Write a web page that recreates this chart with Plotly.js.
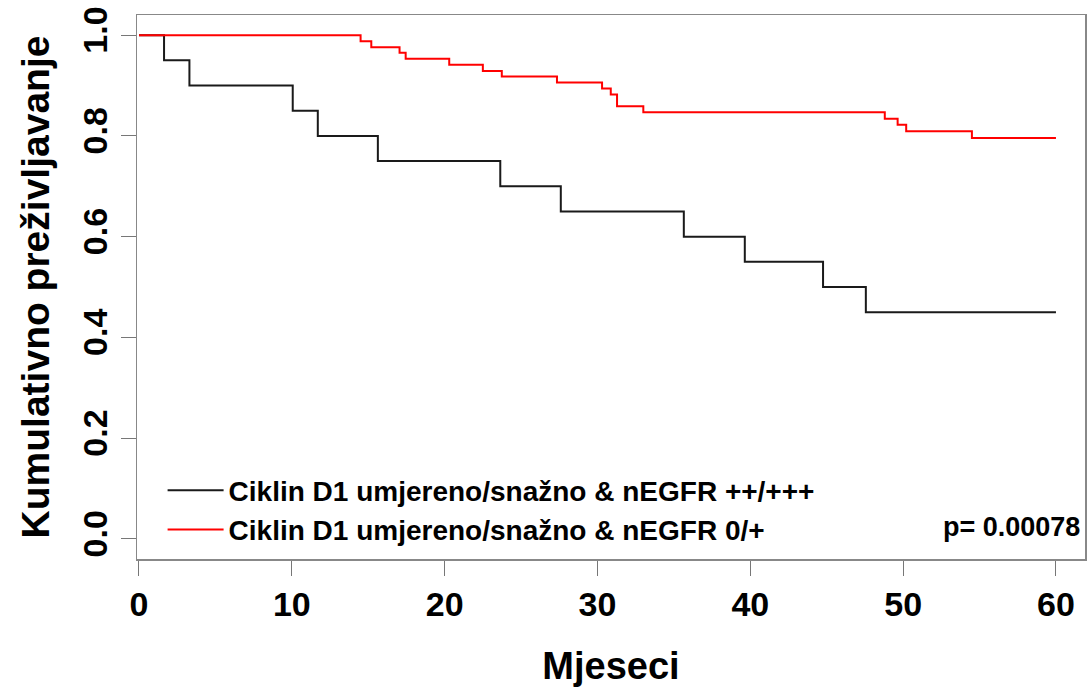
<!DOCTYPE html>
<html>
<head>
<meta charset="utf-8">
<script src="https://cdn.plot.ly/plotly-3.0.1.min.js"></script>
<style>
html,body{margin:0;padding:0;background:#fff;}
#chart{width:1088px;height:692px;}
</style>
</head>
<body>
<div id="chart"></div>
<script>
// Kaplan-Meier step data (months, cumulative survival)
var blackTime = [0, 1.64, 3.3, 10.06, 11.7, 15.63, 23.64, 27.6, 35.65, 39.64, 44.76, 47.56, 60];
var blackSurv = [1, 0.95, 0.90, 0.85, 0.80, 0.75, 0.70, 0.65, 0.60, 0.55, 0.50, 0.45, 0.45];
var redTime = [0, 14.5, 15.2, 17.05, 17.45, 20.3, 22.5, 23.74, 27.35, 30.3, 30.87, 31.28, 33.0, 48.8, 49.64, 50.2, 54.5, 60];
var redSurv = [1, 0.988, 0.976, 0.965, 0.953, 0.941, 0.929, 0.918, 0.906, 0.894, 0.882, 0.859, 0.847, 0.834, 0.822, 0.809, 0.796, 0.796];
var seriesNames = ["Ciklin D1 umjereno/snažno & nEGFR ++/+++", "Ciklin D1 umjereno/snažno & nEGFR 0/+"];
var xTicks = [0, 10, 20, 30, 40, 50, 60];
var yTicks = [0, 0.2, 0.4, 0.6, 0.8, 1.0];
var yTickText = ["0.0", "0.2", "0.4", "0.6", "0.8", "1.0"];
var pText = "p= 0.00078";

var FONT = "'Liberation Sans', Arial, sans-serif";

var traces = [
  {x: blackTime, y: blackSurv, type: 'scatter', mode: 'lines', line: {shape: 'hv', color: '#1a1a1a', width: 2}, name: seriesNames[0]},
  {x: redTime, y: redSurv, type: 'scatter', mode: 'lines', line: {shape: 'hv', color: '#ff0000', width: 2}, name: seriesNames[1]}
];

var layout = {
  width: 1088, height: 692,
  margin: {l: 137, r: 3, t: 15, b: 133},
  paper_bgcolor: '#fff', plot_bgcolor: '#fff',
  font: {family: FONT, color: '#000', weight: 'bold'},
  showlegend: true,
  legend: {x: 0.027, y: 0.172, xanchor: 'left', yanchor: 'top', bgcolor: 'rgba(0,0,0,0)',
           font: {family: FONT, size: 28, weight: 'bold', color: '#000'}, itemwidth: 56, tracegroupgap: 0},
  xaxis: {
    range: [-0.13, 61.9], tickvals: xTicks, ticktext: xTicks.map(String),
    ticks: 'outside', ticklen: 15, tickwidth: 1, tickcolor: '#777',
    showline: true, mirror: true, linecolor: '#888', linewidth: 1.5,
    showgrid: false, zeroline: false,
    tickfont: {family: FONT, size: 34, weight: 'bold'},
    title: {text: 'Mjeseci', font: {family: FONT, size: 38, weight: 'bold'}, standoff: 30}
  },
  yaxis: {
    range: [-0.04, 1.04], tickvals: yTicks, ticktext: yTickText, tickangle: -90,
    ticks: 'outside', ticklen: 15, tickwidth: 1, tickcolor: '#777',
    showline: true, mirror: true, linecolor: '#888', linewidth: 1.5,
    showgrid: false, zeroline: false,
    tickfont: {family: FONT, size: 34, weight: 'bold'},
    title: {text: 'Kumulativno preživljavanje', font: {family: FONT, size: 39, weight: 'bold'}, standoff: 14}
  },
  annotations: [
    {xref: 'paper', yref: 'y', x: 0.997, y: 0.0, text: pText, showarrow: false, xanchor: 'right', yanchor: 'middle',
     yshift: 12, font: {family: FONT, size: 27, weight: 'bold', color: '#000'}}
  ]
};

Plotly.newPlot('chart', traces, layout, {displayModeBar: false, staticPlot: true});
</script>
</body>
</html>
